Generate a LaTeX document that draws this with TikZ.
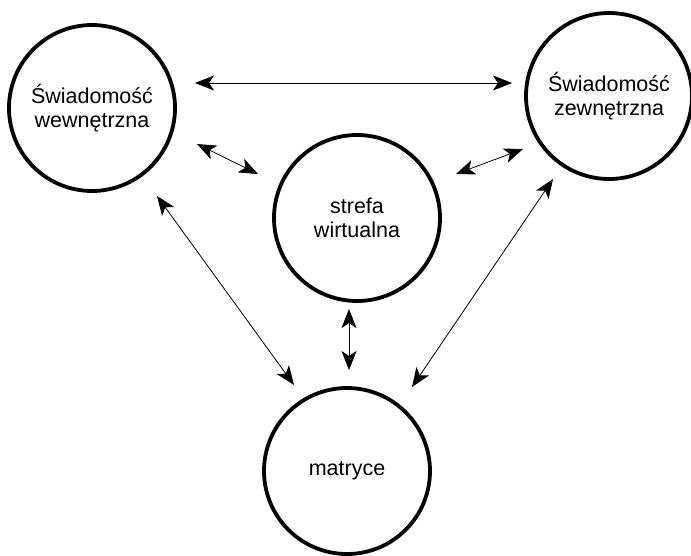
\documentclass[tikz,border=0pt]{standalone}
\usepackage{fontspec}
\setmainfont{Liberation Sans}
\usetikzlibrary{arrows.meta}
\begin{document}
\begin{tikzpicture}[x=1pt,y=-1pt,
  sphere/.style={circle,draw,line width=3.8pt,minimum size=166pt,inner sep=0pt,
    align=center,font=\fontsize{21.5}{24.5}\selectfont},
  link/.style={line width=0.8pt,
    {Stealth[length=19pt,width=15pt,inset=5pt]}-{Stealth[length=19pt,width=15pt,inset=5pt]}}]
  \useasboundingbox (0,0) rectangle (691,555);
  % the four spheres
  \node[sphere] (inner) at (92,108) {Świadomość\\wewnętrzna};
  \node[sphere] (outer) at (609,96) {Świadomość\\zewnętrzna};
  \node[sphere] (virt) at (357,218) {strefa\\wirtualna};
  \node[sphere] (matr) at (347,471) {matryce};
  % arrow end points, kept clear of the circles
  \coordinate (t1) at (195,83);  \coordinate (t2) at (512,83);
  \coordinate (l1) at (197,144); \coordinate (l2) at (258,174);
  \coordinate (r1) at (456,174); \coordinate (r2) at (523,149);
  \coordinate (a1) at (157,196); \coordinate (a2) at (294,385);
  \coordinate (b1) at (553,179); \coordinate (b2) at (412,387);
  \coordinate (v1) at (349,309); \coordinate (v2) at (349,370);
  % two-way links
  \draw[link] (t1) -- (t2);
  \draw[link] (l1) -- (l2);
  \draw[link] (r1) -- (r2);
  \draw[link] (a1) -- (a2);
  \draw[link] (b1) -- (b2);
  \draw[link] (v1) -- (v2);
\end{tikzpicture}
\end{document}
